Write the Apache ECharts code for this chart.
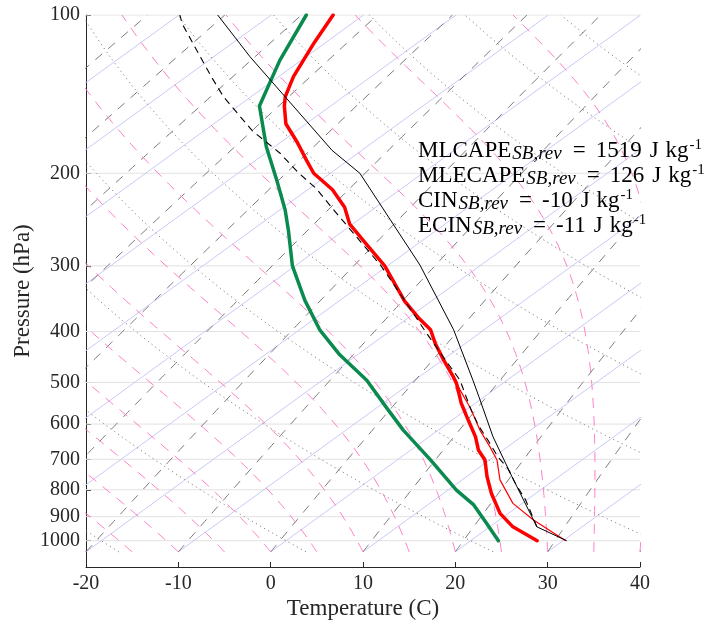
<!DOCTYPE html>
<html><head><meta charset="utf-8">
<script src="https://cdn.jsdelivr.net/npm/echarts@6/dist/echarts.min.js"></script>
<style>html,body{margin:0;padding:0;background:#fff}#c{width:719px;height:628px}</style>
</head><body><div id="c"></div>
<script>
// ---------------- DATA ----------------
// Environmental temperature, thick red (hPa, degC)
const tempPressure = [1000,941,887,813,755,702,672,634,589,548,502,488,453,421,397,378,350,300,275,250,232,215,200,189,175,161,149,143,131,113,100];
const tempValues   = [27.2,22.5,19.1,15.2,12.2,9.5,7.3,5.0,1.7,-1.5,-5.0,-6.3,-9.9,-13.3,-15.8,-18.7,-22.9,-30.3,-35.1,-40.3,-43.4,-47.3,-51.8,-54.5,-58.1,-62.2,-65.0,-66.3,-68.4,-71.2,-73.3];
// Virtual temperature, thin red
const virtPressure = [1000,913,849,766,702,663,616,585,556,517,495];
const virtValues   = [30.3,23.7,19.0,14.1,10.8,8.1,4.5,2.2,-0.1,-3.6,-5.6];
// Dew point, green
const dewPressure  = [1000,926,855,801,702,616,560,495,443,397,349,300,257,235,206,178,149,122,100];
const dewValues    = [23.0,19.1,15.0,10.9,3.6,-3.8,-8.8,-15.2,-21.9,-27.8,-33.8,-40.3,-46.0,-49.4,-54.8,-60.9,-67.7,-72.3,-76.2];
// Surface-based parcel, black solid
const parcelPressure = [1000,941,755,634,532,495,397,299,200,181,120,100];
const parcelValues   = [30.4,25.1,14.9,6.9,-0.6,-3.7,-13.3,-26.6,-46.8,-53.2,-76.1,-85.8];
// Entraining parcel, black dashed
const entrPressure = [941,837,783,728,692,648,603,557,495,453,400,349,300,233,214,199,183,166,143,131,104,100];
const entrValues   = [25.1,19.9,16.6,13.2,10.4,7.2,3.6,0.0,-5.1,-9.7,-16.1,-23.0,-30.7,-44.6,-49.2,-53.7,-58.5,-64.8,-73.0,-77.3,-88.3,-89.9];
// Axis ticks
const pressureTicks = [100,200,300,400,500,600,700,800,900,1000];
const temperatureTicks = [-20,-10,0,10,20,30,40];
// Background line families (label of each line)
const isothermValues = [-110,-100,-90,-80,-70,-60,-50,-40,-30,-20,-10,0,10,20,30,40];
const dryAdiabatThetas = [-60,-40,-20,0,20,40,60,80,100,120,140,160,180];      // potential temperature, degC
const moistAdiabatStarts = [-20,-15,-10,-5,0,5,10,15,20,25,30,35,40];          // degC at 1050 hPa
const mixingRatioStarts = [-90,-80,-70,-60,-50,-40,-30,-20,-10,0,10,20,30,40]; // dew point degC at 1050 hPa
// Annotation
const annotationNames = ['MLCAPE','MLECAPE','CIN','ECIN'];
const annotationValues = ['1519','126','-10','-11'];
const annotationSub = 'SB,rev';

// ---------------- Skew-T geometry ----------------
const SKEW = 78.4, P0 = 1050, PBOT = 1122;
const sx = (T, p) => T + SKEW * Math.log10(P0 / p);
const sy = p => Math.log10(p);
const pt = (T, p) => [sx(T, p), sy(p)];

const Rd = 287.04, cpd = 1005.7, eps = 0.622, Lv = 2.501e6, kap = Rd / cpd;
const es = Tc => 6.112 * Math.exp(17.67 * Tc / (Tc + 243.5));
const levels = [];
for (let p = P0; p >= 99.9; p -= 5) levels.push(p);

function thetaE(Tk, p) {
  const e = es(Tk - 273.15), rs = eps * e / (p - e);
  return (Tk + Lv * rs / cpd) * Math.pow(1000 / p, kap);
}
function moist(T0) {
  const te = thetaE(T0 + 273.15, P0);
  return levels.map(p => {
    let lo = 120, hi = 345;
    while (es(hi - 273.15) > 0.5 * p) hi -= 1;
    for (let k = 0; k < 60; k++) {
      const mid = (lo + hi) / 2;
      if (thetaE(mid, p) > te) hi = mid; else lo = mid;
    }
    return pt((lo + hi) / 2 - 273.15, p);
  });
}
function dry(thetaC) { return levels.map(p => pt((thetaC + 273.15) * Math.pow(p / 1000, kap) - 273.15, p)); }
function mixing(Td0) {
  const e0 = es(Td0), w = eps * e0 / (P0 - e0);
  return levels.map(p => { const e = w * p / (eps + w), l = Math.log(e / 6.112); return pt(243.5 * l / (17.67 - l), p); });
}
function iso(T) { return [pt(T, P0), pt(T, 100)]; }
function profile(ps, ts) { return ps.map((p, i) => pt(ts[i], p)); }

const base = { type: 'line', symbol: 'none', silent: true, animation: false, clip: true, z: 1 };
const series = [];
pressureTicks.forEach(p => series.push(Object.assign({}, base, { data: [[-20, sy(p)], [40, sy(p)]], lineStyle: { color: '#e2e2e2', width: 1 } })));
isothermValues.forEach(T => series.push(Object.assign({}, base, { data: iso(T), lineStyle: { color: '#c9c9f7', width: 1 } })));
mixingRatioStarts.forEach(T => series.push(Object.assign({}, base, { data: mixing(T), lineStyle: { color: '#7a7a7a', width: 1, type: [9, 8] } })));
dryAdiabatThetas.forEach(th => series.push(Object.assign({}, base, { data: dry(th), lineStyle: { color: '#808080', width: 1, type: [1.2, 3.5] } })));
moistAdiabatStarts.forEach(T => series.push(Object.assign({}, base, { data: moist(T), lineStyle: { color: '#ff7ec6', width: 1, type: [10, 8] } })));
series.push(Object.assign({}, base, { z: 5, data: profile(dewPressure, dewValues), lineStyle: { color: '#0b8a4f', width: 3.5, join: 'round', cap: 'round' } }));
series.push(Object.assign({}, base, { z: 5, data: profile(tempPressure, tempValues), lineStyle: { color: '#ff0000', width: 3.5, join: 'round', cap: 'round' } }));
series.push(Object.assign({}, base, { z: 6, data: profile(virtPressure, virtValues), lineStyle: { color: '#ff0000', width: 1.2 } }));
series.push(Object.assign({}, base, { z: 6, data: profile(entrPressure, entrValues), lineStyle: { color: '#000', width: 1.1, type: [7, 5] } }));
series.push(Object.assign({}, base, { z: 6, data: profile(parcelPressure, parcelValues), lineStyle: { color: '#000', width: 1 } }));

const FONT = '"Liberation Serif", "DejaVu Serif", serif';
const C = '#111';
const rich = {
  a: { fontFamily: FONT, fontSize: 23, color: C, lineHeight: 25 },
  s: { fontFamily: FONT, fontSize: 19, fontStyle: 'italic', color: C, lineHeight: 25, verticalAlign: 'bottom', padding: [0, 11, 0, 1] },
  e: { fontFamily: FONT, fontSize: 23, color: C, lineHeight: 25, padding: [0, 10, 0, 0] },
  n: { fontFamily: FONT, fontSize: 23, color: C, lineHeight: 25, padding: [0, 8, 0, 0] },
  j: { fontFamily: FONT, fontSize: 23, color: C, lineHeight: 25, padding: [0, 7, 0, 0] },
  k: { fontFamily: FONT, fontSize: 23, color: C, lineHeight: 25 },
  u: { fontFamily: FONT, fontSize: 15, color: C, lineHeight: 25, verticalAlign: 'top', padding: [0, 0, 0, 1] }
};
const graphic = annotationNames.map((name, i) => ({
  type: 'text', left: 418, top: 138 + 25 * i, z: 20, silent: true,
  style: { text: `{a|${name}}{s|${annotationSub}}{e|=}{n|${annotationValues[i]}}{j|J}{k|kg}{u|-1}`, rich: rich }
}));

const chart = echarts.init(document.getElementById('c'), null, { renderer: 'canvas' });
chart.setOption({
  animation: false, backgroundColor: '#fff',
  grid: { left: 86, top: 15, right: 79, bottom: 61, containLabel: false, outerBoundsMode: 'none' },
  xAxis: { type: 'value', min: temperatureTicks[0], max: temperatureTicks[temperatureTicks.length - 1], interval: 10,
    axisLine: { show: true, onZero: false, lineStyle: { color: '#262626', width: 1 } },
    axisTick: { show: true, inside: true, length: 5, lineStyle: { color: '#262626' } },
    axisLabel: { fontFamily: FONT, fontSize: 20, color: '#262626', margin: 7 },
    splitLine: { show: false }, name: 'Temperature (C)', nameLocation: 'middle', nameGap: 30, nameMoveOverlap: false,
    nameTextStyle: { fontFamily: FONT, fontSize: 23, color: '#262626' } },
  yAxis: { type: 'value', inverse: true, min: sy(100), max: sy(PBOT),
    axisLine: { show: true, onZero: false, lineStyle: { color: '#262626', width: 1 } },
    axisTick: { show: true, inside: true, length: 5, lineStyle: { color: '#262626' }, customValues: pressureTicks.map(sy) },
    axisLabel: { fontFamily: FONT, fontSize: 20, color: '#262626', margin: 6, customValues: pressureTicks.map(sy), formatter: v => String(Math.round(Math.pow(10, v))) },
    splitLine: { show: false }, name: 'Pressure (hPa)', nameLocation: 'middle', nameGap: 52, nameRotate: 90, nameMoveOverlap: false,
    nameTextStyle: { fontFamily: FONT, fontSize: 23, color: '#262626' } },
  graphic: graphic, series: series
});
</script></body></html>
